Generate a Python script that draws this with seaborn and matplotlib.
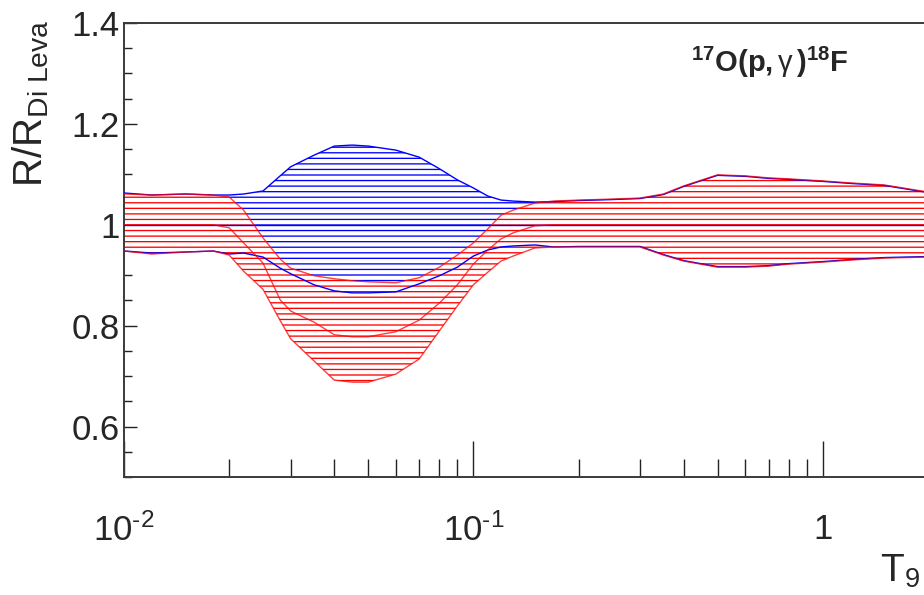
import numpy as np
import pandas as pd
import matplotlib
matplotlib.use("Agg")
import matplotlib.pyplot as plt
import matplotlib.ticker as mticker
import seaborn as sns

# ---------------- data ----------------
T9 = [0.01, 0.012, 0.015, 0.018, 0.02, 0.022, 0.025, 0.028, 0.03, 0.035,
      0.04, 0.045, 0.05, 0.06, 0.07, 0.08, 0.09, 0.1, 0.11, 0.12,
      0.13, 0.15, 0.17, 0.2, 0.25, 0.3, 0.35, 0.4, 0.5, 0.6,
      0.7, 0.8, 1.0, 1.2, 1.5, 2.0]

# Di Leva rate band (normalised to itself -> centre = 1)
dileva_upper = [1.063, 1.059, 1.061, 1.059, 1.059, 1.061, 1.067, 1.097, 1.115, 1.138,
                1.156, 1.158, 1.156, 1.148, 1.134, 1.111, 1.089, 1.073, 1.057, 1.049,
                1.047, 1.045, 1.046, 1.048, 1.050, 1.052, 1.060, 1.076, 1.098, 1.096,
                1.092, 1.090, 1.086, 1.082, 1.078, 1.064]
dileva_centre = [1.0] * len(T9)
dileva_lower = [0.948, 0.944, 0.946, 0.948, 0.942, 0.944, 0.936, 0.914, 0.903, 0.881,
                0.869, 0.865, 0.865, 0.867, 0.883, 0.899, 0.916, 0.938, 0.950, 0.956,
                0.958, 0.960, 0.956, 0.957, 0.957, 0.957, 0.941, 0.929, 0.917, 0.917,
                0.919, 0.923, 0.927, 0.931, 0.935, 0.937]

# present rate band
new_upper = [1.061, 1.059, 1.061, 1.059, 1.055, 1.029, 0.974, 0.932, 0.914, 0.899,
             0.893, 0.889, 0.887, 0.885, 0.895, 0.916, 0.940, 0.964, 0.992, 1.019,
             1.029, 1.043, 1.047, 1.049, 1.051, 1.053, 1.061, 1.077, 1.099, 1.097,
             1.093, 1.091, 1.087, 1.083, 1.079, 1.065]
new_centre = [1.0, 1.0, 1.0, 1.0, 0.994, 0.964, 0.924, 0.851, 0.829, 0.807,
              0.782, 0.778, 0.778, 0.788, 0.811, 0.845, 0.881, 0.922, 0.950, 0.972,
              0.984, 0.998, 1.0, 1.0, 1.0, 1.0, 1.0, 1.0, 1.0, 1.0,
              1.0, 1.0, 1.0, 1.0, 1.0, 1.0]
new_lower = [0.948, 0.942, 0.946, 0.948, 0.940, 0.908, 0.872, 0.810, 0.774, 0.730,
             0.692, 0.688, 0.688, 0.704, 0.734, 0.790, 0.839, 0.881, 0.906, 0.928,
             0.938, 0.954, 0.956, 0.956, 0.956, 0.956, 0.940, 0.928, 0.916, 0.916,
             0.918, 0.922, 0.926, 0.930, 0.934, 0.936]

xtick_vals = [0.01, 0.1, 1.0]
xtick_labels = ["$10^{\u2010 2}$", "$10^{\u2010 1}$", "1"]
ytick_vals = [0.6, 0.8, 1.0, 1.2, 1.4]
ytick_labels = ["0.6", "0.8", "1", "1.2", "1.4"]

# ---------------- style ----------------
sns.set_style("ticks")
plt.rcParams["font.family"] = ["Liberation Sans", "DejaVu Sans"]
plt.rcParams["mathtext.fontset"] = "custom"
plt.rcParams["mathtext.rm"] = "Liberation Sans"
plt.rcParams["mathtext.it"] = "Liberation Sans:italic"
plt.rcParams["mathtext.bf"] = "Liberation Sans:bold"
plt.rcParams["mathtext.fallback"] = "stixsans"
plt.rcParams["hatch.linewidth"] = 0.95

BLUE = "#0000ff"
RED = "#ff0000"

df = pd.DataFrame({
    "T9": T9,
    "dl_up": dileva_upper, "dl_c": dileva_centre, "dl_lo": dileva_lower,
    "nw_up": new_upper, "nw_c": new_centre, "nw_lo": new_lower,
})

fig = plt.figure(figsize=(9.24, 5.95), dpi=100)
ax = fig.add_axes([124 / 924, (595 - 477) / 595, 800 / 924, (477 - 23) / 595])

# hatched bands
ax.fill_between(df["T9"], df["dl_lo"], df["dl_up"], facecolor="white",
                edgecolor=BLUE, hatch="---", linewidth=0, zorder=1)
ax.fill_between(df["T9"], df["nw_lo"], df["nw_up"], facecolor="white",
                edgecolor=RED, hatch="---", linewidth=0, zorder=2)

# boundary and central lines
for col in ["dl_up", "dl_c", "dl_lo"]:
    sns.lineplot(data=df, x="T9", y=col, ax=ax, color=BLUE, linewidth=1.0,
                 zorder=3, legend=False)
for col in ["nw_up", "nw_c", "nw_lo"]:
    sns.lineplot(data=df, x="T9", y=col, ax=ax, color=RED, linewidth=1.0,
                 alpha=0.75, zorder=4, legend=False)

ax.set_xscale("log")
ax.set_xlim(0.01, 1.95)
ax.set_ylim(0.5, 1.4)

ax.xaxis.set_major_locator(mticker.FixedLocator(xtick_vals))
ax.xaxis.set_major_formatter(mticker.FixedFormatter(xtick_labels))
ax.xaxis.set_minor_locator(mticker.LogLocator(base=10, subs=np.arange(2, 10)))
ax.xaxis.set_minor_formatter(mticker.NullFormatter())

ax.yaxis.set_major_locator(mticker.FixedLocator(ytick_vals))
ax.yaxis.set_major_formatter(mticker.FixedFormatter(ytick_labels))
ax.yaxis.set_minor_locator(mticker.MultipleLocator(0.05))

ax.tick_params(axis="x", which="major", direction="in", length=26, width=1.0,
               labelsize=25, pad=26, color="#222222")
ax.tick_params(axis="x", which="minor", direction="in", length=13, width=1.0,
               color="#222222")
ax.tick_params(axis="y", which="major", direction="in", length=9, width=1.0,
               labelsize=25, pad=3, color="#222222")
ax.tick_params(axis="y", which="minor", direction="in", length=5.5, width=1.0,
               color="#222222")

for side in ["left", "bottom", "top"]:
    ax.spines[side].set_linewidth(1.4)
    ax.spines[side].set_color("#3a3a3a")
ax.spines["right"].set_visible(False)
ax.set_xlabel("")
ax.set_ylabel("")

# axis titles and reaction label
fig.text(10 / 924, 1 - 20 / 595, r"R/R$_{\mathrm{Di\ Leva}}$", rotation=90,
         ha="left", va="top", fontsize=29)
fig.text(880 / 924, 1 - 582 / 595, r"T$_{9}$", ha="left", va="baseline",
         fontsize=28)
fig.text(770 / 924, 1 - 72 / 595,
         r"$^{\mathbf{17}}\mathbf{O(p,}\mathrm{\gamma}\,\mathbf{)}^{\mathbf{18}}\mathbf{F}$",
         ha="center", va="baseline", fontsize=21)

fig.savefig("out.png", dpi=100)
